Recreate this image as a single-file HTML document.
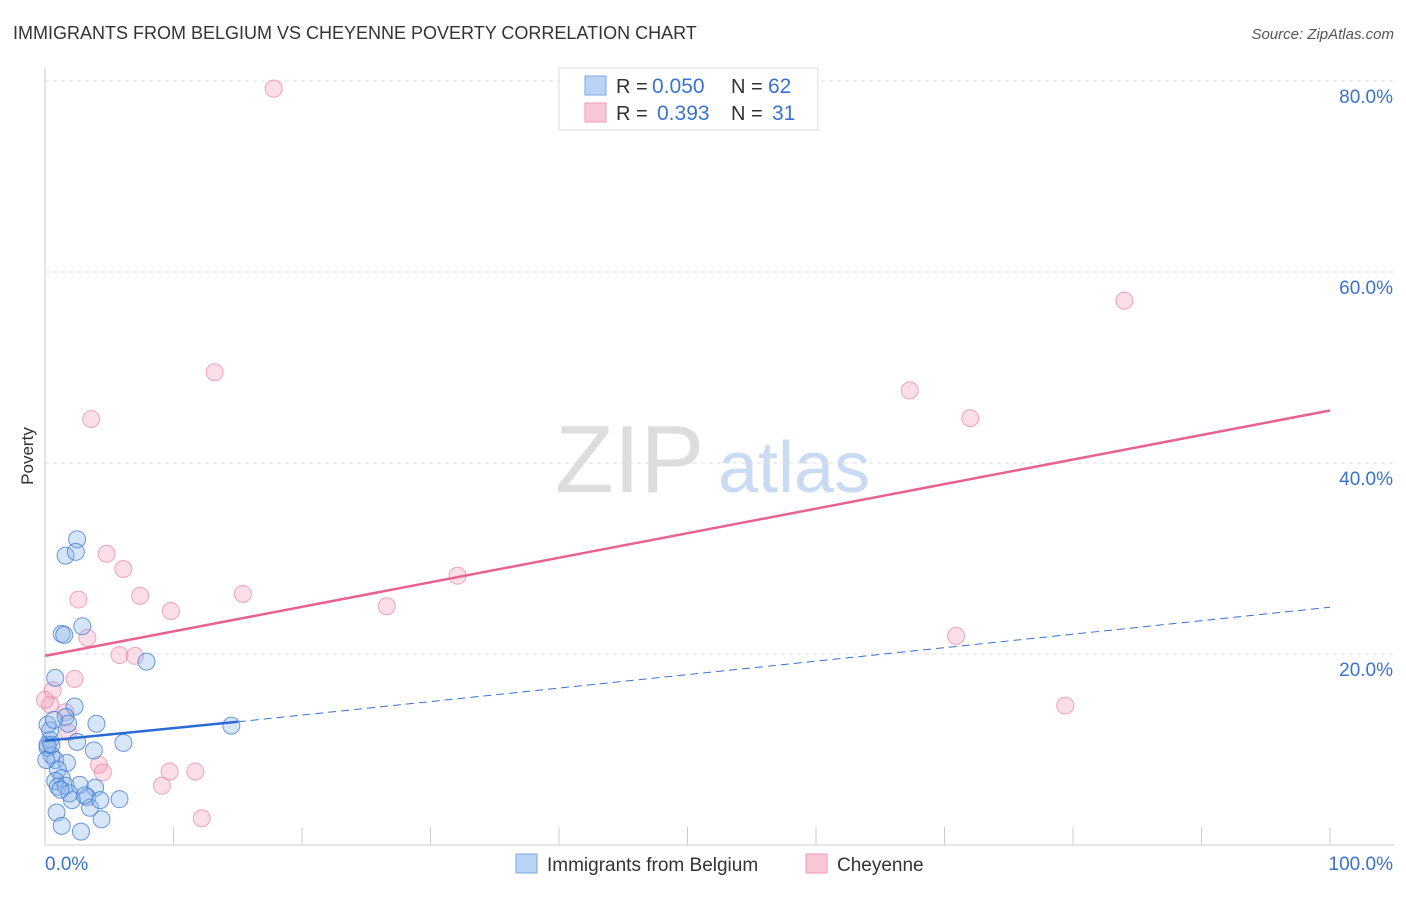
<!DOCTYPE html>
<html><head><meta charset="utf-8"><style>
body{margin:0;background:#fff;font-family:"Liberation Sans",sans-serif;}
svg text{font-family:"Liberation Sans",sans-serif;}
</style></head><body>
<svg id="chart" width="1406" height="892" xmlns="http://www.w3.org/2000/svg">
<text x="13" y="39" font-size="18" fill="#333">IMMIGRANTS FROM BELGIUM VS CHEYENNE POVERTY CORRELATION CHART</text>
<text x="1394" y="39" font-size="15" fill="#555" text-anchor="end" font-style="italic">Source: ZipAtlas.com</text>
<text x="555" y="492" font-size="96" fill="#ddd" font-family="Liberation Serif">ZIP</text>
<text x="718" y="492" font-size="72" fill="#c9daf3">atlas</text>
<text transform="translate(33,456) rotate(-90)" font-size="17" fill="#333" text-anchor="middle">Poverty</text>
<g id="grid"></g><g id="marks"></g>
<g>
<rect x="559" y="68" width="259" height="62" fill="#fff" stroke="#ddd"/>
<rect x="585" y="76" width="21" height="19" fill="#b9d3f5" stroke="#7aa7e8"/>
<rect x="585" y="103" width="21" height="19" fill="#f9c8d7" stroke="#ee9ab4"/>
<text x="616" y="93" font-size="20" fill="#333">R =</text>
<text x="652" y="93" font-size="21" fill="#3a72d0">0.050</text>
<text x="731" y="93" font-size="20" fill="#333">N =</text>
<text x="768" y="93" font-size="21" fill="#3a72d0">62</text>
<text x="616" y="120" font-size="20" fill="#333">R =</text>
<text x="657" y="120" font-size="21" fill="#3a72d0">0.393</text>
<text x="731" y="120" font-size="20" fill="#333">N =</text>
<text x="772" y="120" font-size="21" fill="#3a72d0">31</text>
</g>
<g>
<rect x="516" y="854" width="21" height="19" fill="#b9d3f5" stroke="#7aa7e8"/>
<text x="547" y="871" font-size="19" fill="#333">Immigrants from Belgium</text>
<rect x="806" y="854" width="21" height="19" fill="#f9c8d7" stroke="#ee9ab4"/>
<text x="837" y="871" font-size="19" fill="#333">Cheyenne</text>
</g>
</svg>
<script>
const yTicks=[20,40,60,80];
const xTickLabels=["0.0%","100.0%"];
const blueX=[2.5,1.6,2.4,1.3,1.5,2.9,7.9,0.8,2.3,1.6,1.8,4.0,14.5,6.1,2.5,3.8,0.4,0.2,0.5,0.8,1.7,1.0,1.3,0.8,1.0,1.6,2.7,3.9,2.1,3.3,5.8,3.5,0.9,1.3,4.4,2.8,0.2,0.1,0.5,1.9,1.2,3.1,0.4,0.2,0.7,4.3];
const blueY=[32.0,30.3,30.7,22.1,22.0,22.9,19.2,17.5,14.5,13.4,12.7,12.7,12.5,10.7,10.8,9.9,11.0,10.2,9.4,8.9,8.6,7.9,7.0,6.7,6.1,6.2,6.3,6.0,4.7,5.0,4.8,3.9,3.4,2.0,2.7,1.4,10.5,8.9,10.5,5.4,5.8,5.2,12.0,12.6,13.1,4.7];
const pinkX=[17.8,13.2,3.6,84.0,67.3,72.0,4.8,6.1,2.6,7.4,9.8,15.4,26.6,32.1,3.3,5.8,7.0,70.9,2.3,0.6,0.4,1.6,1.8,4.2,4.5,9.1,9.7,11.7,12.2,79.4,0];
const pinkY=[79.2,49.5,44.6,57.0,47.6,44.7,30.5,28.9,25.7,26.1,24.5,26.3,25.0,28.2,21.7,19.9,19.8,21.9,17.4,16.2,14.7,13.9,11.8,8.4,7.6,6.2,7.7,7.7,2.8,14.6,15.2];
const blueLine=[10.9,12.9,24.9];
const pinkLine=[19.8,45.5];
const X0=45,X1=1330,Y0=845,PY=9.55;
const sx=v=>X0+(X1-X0)*v/100, sy=v=>Y0-v*PY;
const NS="http://www.w3.org/2000/svg";
function mk(t,a,p){const e=document.createElementNS(NS,t);for(const k in a)e.setAttribute(k,a[k]);p.appendChild(e);return e;}
const grid=document.getElementById('grid'),marks=document.getElementById('marks');
mk('line',{x1:45,y1:68,x2:45,y2:845,stroke:'#ccc'},grid);
mk('line',{x1:45,y1:845,x2:1394,y2:845,stroke:'#ccc'},grid);
for(let i=1;i<=10;i++){mk('line',{x1:sx(i*10),y1:827,x2:sx(i*10),y2:845,stroke:'#ccc'},grid);}
yTicks.forEach(t=>{
 const l=mk('line',{x1:45,y1:sy(t),x2:1394,y2:sy(t),stroke:'#ddd','stroke-dasharray':'4,4'},grid);
 
 
 const tx=mk('text',{x:1393,y:sy(t)+22,'font-size':19,fill:'#3a72d0','text-anchor':'end'},grid);
 tx.textContent=t.toFixed(1)+'%';
 
 
});
const xl0=mk('text',{x:45,y:870,'font-size':19,fill:'#3a72d0'},grid);xl0.textContent=xTickLabels[0];


const xl1=mk('text',{x:1393,y:870,'font-size':19,fill:'#3a72d0','text-anchor':'end'},grid);xl1.textContent=xTickLabels[1];


pinkX.forEach((x,i)=>{const c=mk('circle',{cx:sx(x),cy:sy(pinkY[i]),r:8.5,fill:'rgba(244,160,188,0.35)',stroke:'rgba(232,130,165,0.7)'},marks);
 
 });
blueX.forEach((x,i)=>{const c=mk('circle',{cx:sx(x),cy:sy(blueY[i]),r:8.5,fill:'rgba(140,180,235,0.35)',stroke:'rgba(60,120,210,0.75)'},marks);
 
 });
const pl=mk('line',{x1:sx(0),y1:sy(pinkLine[0]),x2:sx(100),y2:sy(pinkLine[1]),stroke:'#e8628f','stroke-width':2.5},marks);


const bd=mk('line',{x1:sx(15),y1:sy(blueLine[1]),x2:sx(100),y2:sy(blueLine[2]),stroke:'#3a72d0','stroke-width':1,'stroke-dasharray':'8,5'},marks);


const bl=mk('line',{x1:sx(0),y1:sy(blueLine[0]),x2:sx(15),y2:sy(blueLine[1]),stroke:'#2a6ad4','stroke-width':2.5},marks);


</script>
</body></html>
